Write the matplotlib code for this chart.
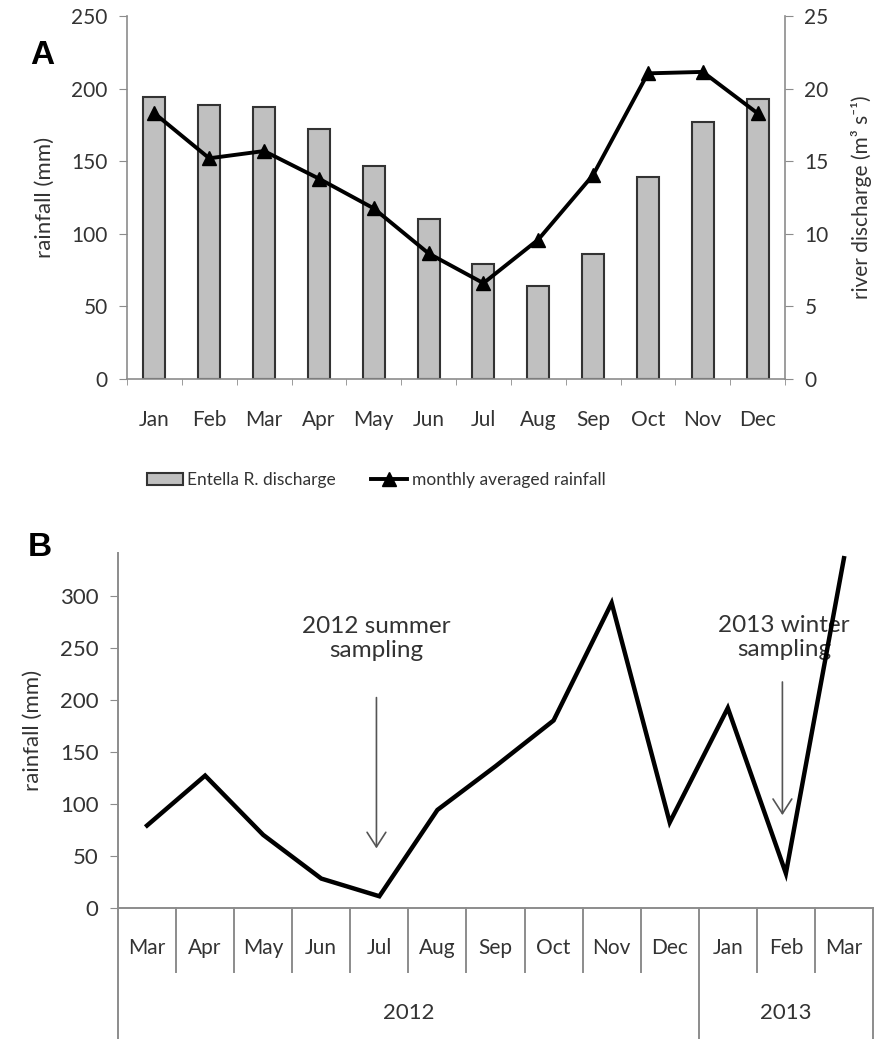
import matplotlib
matplotlib.use("Agg")
import matplotlib.pyplot as plt
import matplotlib.transforms as mtransforms
from matplotlib.patches import Patch
from matplotlib.lines import Line2D
import numpy as np

# ---------------- data ----------------
months_a = ["Jan", "Feb", "Mar", "Apr", "May", "Jun", "Jul", "Aug", "Sep", "Oct", "Nov", "Dec"]
discharge = [19.4, 18.9, 18.7, 17.2, 14.7, 11.0, 7.9, 6.4, 8.6, 13.9, 17.7, 19.3]
rain_avg = [183, 152, 157, 138, 117.5, 86.5, 66, 96, 140.5, 210.5, 211.5, 183]

months_b = ["Mar", "Apr", "May", "Jun", "Jul", "Aug", "Sep", "Oct", "Nov", "Dec", "Jan", "Feb", "Mar"]
rain_b = [79, 127, 70, 28, 11, 94, 136, 180, 293, 82, 192, 33, 336]
years_b = ["2012", "2013"]
year_counts = [10, 3]

left_ticks_a = [0, 50, 100, 150, 200, 250]
right_ticks_a = [0, 5, 10, 15, 20, 25]
ticks_b = [0, 50, 100, 150, 200, 250, 300]

# ---------------- style ----------------
plt.rcParams['font.family'] = ['Lato', 'DejaVu Sans']
W, H = 881, 1039
fig = plt.figure(figsize=(W / 100, H / 100), dpi=100)
AX = "#8c8c8c"
TXT = "#333333"


def px_axes(l, r, t, b):
    return [l / W, 1 - b / H, (r - l) / W, (b - t) / H]


# ---------------- panel A ----------------
ax1 = fig.add_axes(px_axes(127, 785, 16, 379))
ax2 = ax1.twinx()
x = np.arange(len(months_a))

ax2.bar(x, discharge, width=0.4, color="#c0c0c0", edgecolor="#333333", linewidth=1.5, zorder=2)
ax1.plot(x, rain_avg, color="black", lw=2.8, marker="^", markersize=10, zorder=3)
ax1.set_zorder(ax2.get_zorder() + 1)
ax1.patch.set_visible(False)

ax1.set_xlim(-0.5, len(months_a) - 0.5)
ax1.set_ylim(0, 250)
ax2.set_ylim(0, 25)
ax1.set_yticks(left_ticks_a)
ax2.set_yticks(right_ticks_a)
ax1.set_xticks(x)
ax1.set_xticklabels(months_a)
ax1.set_xticks(np.arange(-0.5, len(months_a), 1.0), minor=True)
ax1.tick_params(axis="x", which="major", length=0, pad=22, labelsize=15, colors=TXT)
ax1.tick_params(axis="x", which="minor", length=4, color=AX, direction="out")
ax1.tick_params(axis="y", length=6, pad=8, labelsize=15, colors=TXT, color=AX)
ax2.tick_params(axis="y", length=6, pad=8, labelsize=15, colors=TXT, color=AX)

for a in (ax1, ax2):
    a.spines["top"].set_visible(False)
    for s in ("left", "right", "bottom"):
        a.spines[s].set_color(AX)
        a.spines[s].set_linewidth(1.2)
ax1.spines["right"].set_visible(False)
ax2.spines["left"].set_visible(False)
ax2.spines["bottom"].set_visible(False)

ax1.set_ylabel("rainfall (mm)", fontsize=16, color=TXT, labelpad=12)
ax2.set_ylabel("river discharge (m³ s⁻¹)", fontsize=15, color=TXT, labelpad=16)

fig.text(30 / W, 1 - 55 / H, "A", fontsize=24, fontweight="bold", family="Liberation Sans",
         ha="left", va="center")

handles = [Patch(facecolor="#c0c0c0", edgecolor="#333333", linewidth=1.5),
           Line2D([0], [0], color="black", lw=2.8, marker="^", markersize=10)]
fig.legend(handles, ["Entella R. discharge", "monthly averaged rainfall"],
           loc="center", bbox_to_anchor=(376 / W, 1 - 480 / H), ncol=2, frameon=False,
           fontsize=12.5, handlelength=2.1, handleheight=0.7, handletextpad=0.25,
           columnspacing=2.0, numpoints=1, labelcolor=TXT)

# ---------------- panel B ----------------
top_b, bot_b = 553, 907.7
axb = fig.add_axes(px_axes(118, 873, top_b, bot_b))
xb = np.arange(len(months_b))
axb.plot(xb, rain_b, color="black", lw=3.2, solid_joinstyle="miter", clip_on=False)
axb.set_xlim(-0.5, len(months_b) - 0.5)
axb.set_ylim(0, 341)
axb.set_yticks(ticks_b)
axb.set_xticks(xb)
axb.set_xticklabels(months_b)
axb.tick_params(axis="x", length=0, pad=22, labelsize=15, colors=TXT)
axb.tick_params(axis="y", length=6, pad=8, labelsize=16, colors=TXT, color=AX)
axb.spines["top"].set_visible(False)
axb.spines["right"].set_visible(False)
for s in ("left", "bottom"):
    axb.spines[s].set_color(AX)
    axb.spines[s].set_linewidth(1.4)
axb.set_ylabel("rainfall (mm)", fontsize=16, color=TXT, labelpad=12)

# category-frame lines below the axis
trans = mtransforms.blended_transform_factory(axb.transData, axb.transAxes)
axh = bot_b - top_b
month_depth = -(972 - bot_b) / axh
fig_depth = -(H - bot_b) / axh
cum = np.cumsum([0] + year_counts) - 0.5
for b in np.arange(0.5, len(months_b) - 0.5, 1.0):
    if b in cum:
        continue
    axb.plot([b, b], [0, month_depth], transform=trans, color=AX, lw=1.4, clip_on=False)
for b in cum:
    axb.plot([b, b], [0, fig_depth], transform=trans, color=AX, lw=1.4, clip_on=False)
for i, yr in enumerate(years_b):
    xc = (cum[i] + cum[i + 1]) / 2
    axb.text(xc, -(1013 - bot_b) / axh, yr, transform=trans, ha="center", va="center",
             fontsize=16, color=TXT)

# annotations
arrow_kw = dict(arrowstyle="->,head_length=0.7,head_width=0.45", mutation_scale=15,
                lw=1.2, color="#555555", shrinkA=0, shrinkB=0)
axb.text(3.95, 259, "2012 summer\nsampling", ha="center", va="center", fontsize=17.5,
         color=TXT, linespacing=1.2)
axb.annotate("", xy=(3.95, 57), xytext=(3.95, 202), arrowprops=arrow_kw)
axb.text(10.97, 260, "2013 winter\nsampling", ha="center", va="center", fontsize=17.5,
         color=TXT, linespacing=1.2, zorder=1)
axb.annotate("", xy=(10.94, 89), xytext=(10.94, 217), arrowprops=arrow_kw)

fig.text(28 / W, 1 - 548 / H, "B", fontsize=24, fontweight="bold", family="Liberation Sans",
         ha="left", va="center")

fig.savefig("out.png", dpi=100, facecolor="white")
